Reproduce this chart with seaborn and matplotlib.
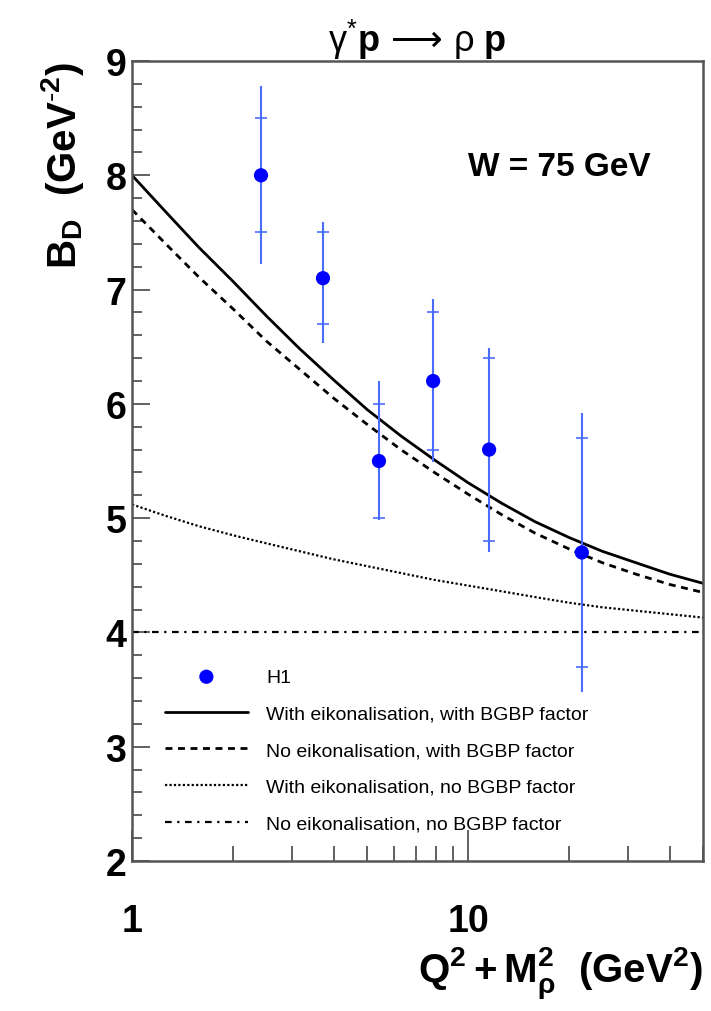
import numpy as np
import pandas as pd
import seaborn as sns
import matplotlib.pyplot as plt
from matplotlib.ticker import LogLocator, FixedLocator, NullFormatter, FixedFormatter, MultipleLocator

# H1 measurements, W = 75 GeV
q2m2 = [2.42, 3.70, 5.43, 7.87, 11.55, 21.8]
b_d = [8.0, 7.1, 5.5, 6.2, 5.6, 4.7]
stat_err = [0.5, 0.4, 0.5, 0.6, 0.8, 1.0]
tot_up = [0.78, 0.49, 0.7, 0.72, 0.89, 1.22]
tot_dn = [0.78, 0.57, 0.52, 0.71, 0.9, 1.22]

x_model = [1, 1.26, 1.58, 2.0, 2.51, 3.16, 3.98, 5.01, 6.31, 7.94,
           10, 12.6, 15.8, 20, 25.1, 31.6, 39.8, 50]
y_eik_bgbp = [8.00, 7.68, 7.37, 7.07, 6.77, 6.48, 6.21, 5.95, 5.72, 5.51,
              5.31, 5.13, 4.97, 4.83, 4.71, 4.61, 4.51, 4.43]
y_noeik_bgbp = [7.70, 7.40, 7.11, 6.83, 6.55, 6.30, 6.05, 5.82, 5.60, 5.40,
                5.21, 5.03, 4.87, 4.73, 4.61, 4.51, 4.42, 4.35]
y_eik_nobgbp = [5.12, 5.02, 4.93, 4.85, 4.78, 4.71, 4.64, 4.58, 4.52, 4.46,
                4.41, 4.36, 4.31, 4.26, 4.22, 4.19, 4.16, 4.13]
x_noeik_nobgbp = [1, 50]
y_noeik_nobgbp = [4.0, 4.0]

labels = ['With eikonalisation, with BGBP factor',
          'No eikonalisation, with BGBP factor',
          'With eikonalisation, no BGBP factor',
          'No eikonalisation, no BGBP factor']

sns.set_style('white')
plt.rcParams['font.family'] = ['Liberation Sans', 'DejaVu Sans']
plt.rcParams['mathtext.fontset'] = 'custom'
plt.rcParams['mathtext.rm'] = 'Liberation Sans'
plt.rcParams['mathtext.it'] = 'Liberation Sans:italic'
plt.rcParams['mathtext.bf'] = 'Liberation Sans:bold'
plt.rcParams['mathtext.sf'] = 'DejaVu Sans'
plt.rcParams['text.color'] = 'black'
plt.rcParams['axes.labelcolor'] = 'black'
plt.rcParams['xtick.labelcolor'] = 'black'
plt.rcParams['ytick.labelcolor'] = 'black'

fig = plt.figure(figsize=(7.11, 10.12), dpi=100)
ax = fig.add_axes([0.1857, 0.1482, 0.8030, 0.7905])

curves = [(x_model, y_eik_bgbp, '-', 2.0),
          (x_model, y_noeik_bgbp, (0, (2.5, 2)), 2.0),
          (x_model, y_eik_nobgbp, (0, (1, 1)), 1.6),
          (x_noeik_nobgbp, y_noeik_nobgbp, (0, (3, 2.5, 1, 2.5)), 1.6)]
handles = []
for (xs, ys, ls, lw), lab in zip(curves, labels):
    sns.lineplot(x=xs, y=ys, ax=ax, color='black', linestyle=ls, linewidth=lw,
                 estimator=None, sort=False)
    handles.append(ax.lines[-1])

err_col = '#4a6cff'
ax.errorbar(q2m2, b_d, yerr=[tot_dn, tot_up], fmt='none', ecolor=err_col,
            elinewidth=1.5, capsize=0, zorder=3)
ax.errorbar(q2m2, b_d, yerr=stat_err, fmt='none', ecolor=err_col,
            elinewidth=0, capsize=4, capthick=1.2, zorder=3)
sns.scatterplot(x=q2m2, y=b_d, ax=ax, color='#0000ff', s=105, edgecolor='none', zorder=4)
h1 = ax.collections[-1]

ax.set_xscale('log')
ax.set_xlim(1, 50)
ax.set_ylim(2, 9)

ax.xaxis.set_major_locator(FixedLocator([1, 10]))
ax.xaxis.set_major_formatter(FixedFormatter(['1', '10']))
ax.xaxis.set_minor_locator(LogLocator(base=10, subs=np.arange(2, 10)))
ax.xaxis.set_minor_formatter(NullFormatter())
ax.yaxis.set_major_locator(MultipleLocator(1))
ax.yaxis.set_minor_locator(MultipleLocator(0.2))

spine_col = '#555555'
for s in ax.spines.values():
    s.set_color(spine_col)
    s.set_linewidth(1.8)
ax.tick_params(axis='both', which='both', direction='in', color=spine_col,
               bottom=True, left=True, top=False, right=False)
ax.tick_params(axis='x', which='major', length=22, width=1.3, pad=30, labelsize=27)
ax.tick_params(axis='x', which='minor', length=11, width=1.3)
ax.tick_params(axis='y', which='major', length=13, width=1.3, pad=4, labelsize=27)
ax.tick_params(axis='y', which='minor', length=7, width=1.3)
for t in ax.get_xticklabels() + ax.get_yticklabels():
    t.set_fontweight('bold')

ax.set_xlabel(r'$\mathbf{Q^{2} + M_{\rho}^{2}\ \ (GeV^{2})}$', fontsize=29, loc='right')
ax.xaxis.set_label_coords(1.0, -0.105)
ax.set_ylabel(r'$\mathbf{B_{D}\ \ (GeV^{\text{-}2})}$', fontsize=29, loc='top')
ax.yaxis.set_label_coords(-0.08, 1.0)

ax.set_title(r'$\mathrm{\gamma}^{*}\mathbf{p}\,\mathsf{\longrightarrow}\,\mathrm{\rho}\ \mathbf{p}$',
             fontsize=26, pad=7)
ax.text(0.588, 0.8575, 'W = 75 GeV', transform=ax.transAxes, fontsize=24,
        fontweight='bold', ha='left', va='baseline')

ax.legend([h1] + handles, ['H1'] + labels, loc='upper left',
          bbox_to_anchor=(0.057, 0.241), frameon=False, fontsize=14,
          handlelength=4.3, handletextpad=0.93, labelspacing=0.98,
          borderpad=0, borderaxespad=0)

fig.savefig('out.png', dpi=100)
